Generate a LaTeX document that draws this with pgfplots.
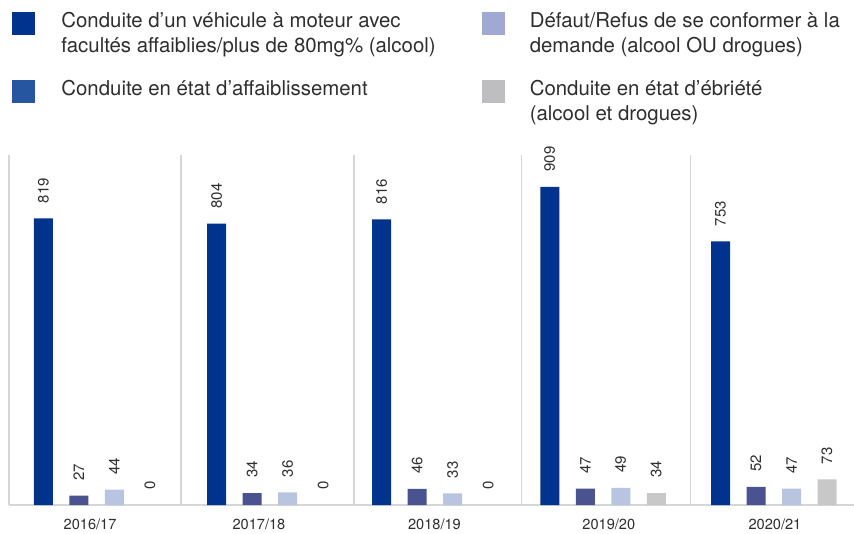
\documentclass[border=0pt]{standalone}
\usepackage{fontspec}
\setmainfont{TeX Gyre Heros}
\usepackage{pgfplots}
\pgfplotsset{compat=1.18}
\definecolor{c1}{HTML}{00338D}
\definecolor{c2}{HTML}{4A528F}
\definecolor{c3}{HTML}{B8C4E0}
\definecolor{c4}{HTML}{C8C8C8}
\definecolor{l2}{HTML}{2756A0}
\definecolor{l3}{HTML}{A0A8D4}
\definecolor{l4}{HTML}{BEBEC0}
\definecolor{sep}{HTML}{D6D6D6}
\definecolor{txt}{HTML}{2E2E2E}
\begin{document}
\begin{tikzpicture}[x=1pt,y=1pt]
\useasboundingbox (0,0) rectangle (854,533);
\begin{axis}[
 at={(9pt,28pt)}, anchor=south west,
 x=170.25pt, y=0.35pt,
 xmin=-0.5, xmax=4.463, ymin=0, ymax=1000,
 axis x line*=bottom, axis y line*=left,
 axis line style={sep, line width=1.5pt},
 ytick=\empty,
 xtick={-0.024,0.968,1.999,3.023,3.999},
 xticklabels={2016/17,2017/18,2018/19,2019/20,2020/21},
 major tick length=0pt, minor tick length=0pt,
 minor xtick={0.51,1.526,2.511,3.503},
 xminorgrids=true,
 minor x grid style={sep, line width=1.5pt},
 xticklabel style={font=\fontsize{14.6}{17}\selectfont, text=txt, inner sep=0pt, anchor=north, yshift=-14pt},
 ybar, bar width=19pt,
 clip=false,
 /pgf/number format/assume math mode=true,
 nodes near coords,
 every node near coord/.append style={rotate=90, anchor=west, inner sep=0pt, inner xsep=15pt, font=\fontsize{15}{17}\selectfont, text=txt},
 legend columns=2,
 legend cell align=left,
 legend style={at={(axis description cs:0.00355,1.41486)}, anchor=north west, draw=none, fill=none, inner sep=0pt, outer sep=0pt, column sep=0pt, row sep=18.4pt, nodes={inner sep=0pt, outer sep=0pt, text depth=, text height=, font=\fontsize{20.4}{25}\selectfont, text=txt}},
]
\addplot[forget plot, fill=c1, draw=none, bar shift=-53.25pt] coordinates {(0.015,819) (1.032,804) (2.002,816) (2.989,909) (3.992,753)};
\addplot[forget plot, fill=c2, draw=none, bar shift=-17.75pt] coordinates {(0.015,27) (1.032,34) (2.002,46) (2.989,47) (3.992,52)};
\addplot[forget plot, fill=c3, draw=none, bar shift=17.75pt] coordinates {(0.015,44) (1.032,36) (2.002,33) (2.989,49) (3.992,47)};
\addplot[forget plot, fill=c4, draw=none, bar shift=53.25pt] coordinates {(0.015,0) (1.032,0) (2.002,0) (2.989,34) (3.992,73)};
\addlegendimage{legend image code/.code={\fill[c1] (0pt,0.8pt) rectangle (22pt,22.8pt); \path (49pt,0pt);}}
\addlegendentry{\parbox{421pt}{\strut Conduite d’un véhicule à moteur avec\\\strut facultés affaiblies/plus de 80mg\% (alcool)}}
\addlegendimage{legend image code/.code={\fill[l3] (0pt,0.8pt) rectangle (22pt,22.8pt); \path (47pt,0pt);}}
\addlegendentry{\parbox{320pt}{\strut Défaut/Refus de se conformer à la\\\strut demande (alcool OU drogues)}}
\addlegendimage{legend image code/.code={\fill[l2] (0pt,0.8pt) rectangle (22pt,22.8pt); \path (49pt,0pt);}}
\addlegendentry{\parbox{421pt}{\strut Conduite en état d’affaiblissement\\\strut}}
\addlegendimage{legend image code/.code={\fill[l4] (0pt,0.8pt) rectangle (22pt,22.8pt); \path (47pt,0pt);}}
\addlegendentry{\parbox{320pt}{\strut Conduite en état d’ébriété\\\strut (alcool et drogues)}}
\end{axis}
\end{tikzpicture}
\end{document}
